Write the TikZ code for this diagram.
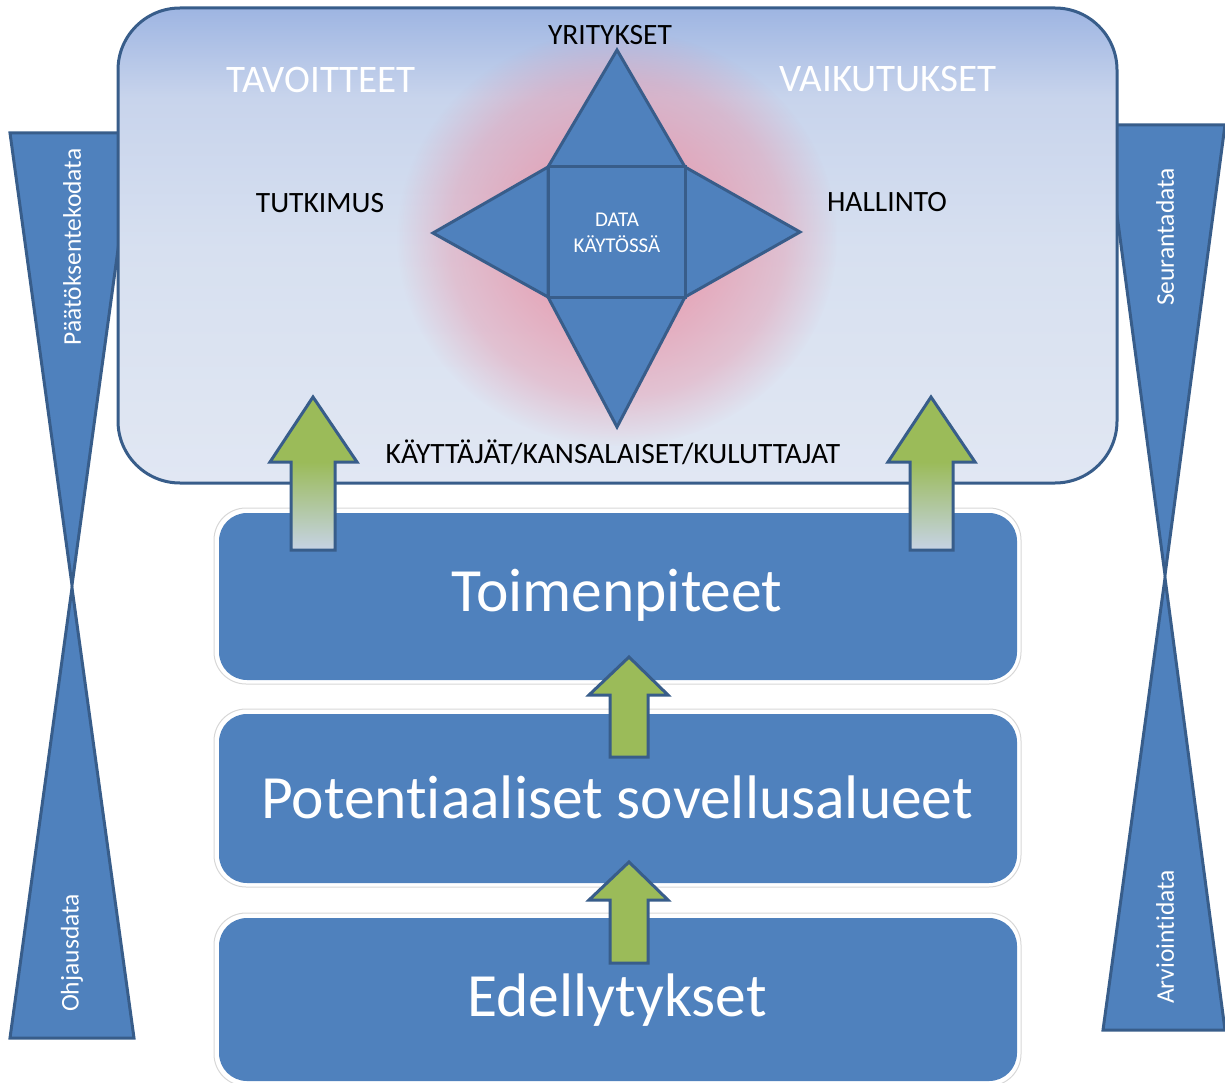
\documentclass[tikz,border=0pt]{standalone}
\usepackage{fontspec}
\setmainfont{Carlito}[Ligatures=NoCommon]
\usetikzlibrary{fadings}
\definecolor{boxblue}{HTML}{4F81BD}
\definecolor{edgeblue}{HTML}{385D8A}
\definecolor{arrowgreen}{HTML}{9BBB59}
\definecolor{shaftpale}{RGB}{198,211,229}
\definecolor{paneltop}{RGB}{158,181,226}
\definecolor{panelhigh}{RGB}{200,212,236}
\definecolor{panelmid}{RGB}{215,224,240}
\definecolor{panelbot}{RGB}{225,231,243}
\definecolor{glowpink}{RGB}{235,140,160}
\definecolor{haloline}{RGB}{215,215,215}
% vertical gradient of the top panel (the path covers 25bp..75bp)
\pgfdeclareverticalshading{panelshade}{100bp}{color(0bp)=(panelbot); color(25bp)=(panelbot); color(49.5bp)=(panelmid); color(65.5bp)=(panelhigh); color(75bp)=(paneltop); color(100bp)=(paneltop)}
% soft halo behind the star (the path covers radius 0..25bp)
\pgfdeclareradialshading{haloshape}{\pgfpoint{0bp}{0bp}}{color(0bp)=(pgftransparent!32); color(11bp)=(pgftransparent!36); color(19bp)=(pgftransparent!62); color(25bp)=(pgftransparent!100); color(50bp)=(pgftransparent!100)}
\pgfdeclarefading{halofade}{\pgfuseshading{haloshape}}
\tikzset{
  shapefill/.style={fill=boxblue, draw=edgeblue, line width=3pt, line join=miter},
  levelbox/.style={fill=boxblue, rounded corners=28pt},
  levelhalo/.style={draw=haloline, line width=1pt, rounded corners=32pt},
  arrowshape/.style={draw=edgeblue, line width=3pt, line join=miter},
  fz/.style={font=\fontsize{#1}{#1}\selectfont},
  whitetxt/.style={text=white, inner sep=0pt},
  blacktxt/.style={text=black, inner sep=0pt},
}
\begin{document}
\begin{tikzpicture}[x=1pt, y=-1pt]
\useasboundingbox (0,0) rectangle (1225,1083);

% side funnels (upper parts pass behind the panel)
\path[shapefill] (10,133) -- (134,133) -- (72,585) -- cycle;
\path[shapefill] (10,1038) -- (134,1038) -- (72,588) -- cycle;
\path[shapefill] (1105,125) -- (1225,125) -- (1165,575) -- cycle;
\path[shapefill] (1103,1030) -- (1225,1030) -- (1165,578) -- cycle;

% top panel
\path[shading=panelshade, draw=edgeblue, line width=3pt,
      rounded corners=62pt] (118,8) rectangle (1117,483);

% glow behind the star
\fill[glowpink, path fading=halofade] (617,238) ellipse (220 and 208);

% star: centre square and four triangles
\path[shapefill] (548,167) -- (685,167) -- (617,50) -- cycle;
\path[shapefill] (548,167) -- (548,297) -- (433,233) -- cycle;
\path[shapefill] (685,167) -- (685,297) -- (800,232) -- cycle;
\path[shapefill] (548,297) -- (685,297) -- (617,427) -- cycle;
\path[shapefill] (548,167) rectangle (685,297);
\node[whitetxt, fz=21, align=center] (data) at (617,233) {DATA\\[5pt]KÄYTÖSSÄ};

% level boxes
\path[levelhalo] (214,508) rectangle (1021,684);
\path[levelbox] (219,513) rectangle (1017,680);
\path[levelhalo] (214,709) rectangle (1021,887);
\path[levelbox] (219,714) rectangle (1017,883);
\path[levelhalo] (214,913) rectangle (1021,1086);
\path[levelbox] (219,918) rectangle (1017,1081);

% large arrows from the actions box into the panel
\fill[arrowgreen] (313,397) -- (357,462) -- (335,462) -- (335,550) -- (291,550) -- (291,462) -- (270,462) -- cycle;
\shade[top color=arrowgreen, bottom color=shaftpale] (291,462) rectangle (335,550);
\path[arrowshape] (313,397) -- (357,462) -- (335,462) -- (335,550) -- (291,550) -- (291,462) -- (270,462) -- cycle;

\fill[arrowgreen] (931,397) -- (975,462) -- (953,462) -- (953,550) -- (910,550) -- (910,462) -- (888,462) -- cycle;
\shade[top color=arrowgreen, bottom color=shaftpale] (910,462) rectangle (953,550);
\path[arrowshape] (931,397) -- (975,462) -- (953,462) -- (953,550) -- (910,550) -- (910,462) -- (888,462) -- cycle;

% small arrows between the levels
\path[arrowshape, fill=arrowgreen] (629,657) -- (668,695) -- (648,695) -- (648,757) -- (610,757) -- (610,695) -- (589,695) -- cycle;
\path[arrowshape, fill=arrowgreen] (629,862) -- (668,900) -- (648,900) -- (648,963) -- (610,963) -- (610,900) -- (589,900) -- cycle;

% panel labels
\node[whitetxt, fz=39] (goals) at (321,80) {TAVOITTEET};
\node[whitetxt, fz=39] (effects) at (888,79) {VAIKUTUKSET};
\node[blacktxt, fz=29.5] (firms) at (610,35) {YRITYKSET};
\node[blacktxt, fz=29.5] (research) at (320,203) {TUTKIMUS};
\node[blacktxt, fz=29.5] (admin) at (887,202) {HALLINTO};
\node[blacktxt, fz=29.5] (users) at (613,452) {KÄYTTÄJÄT/KANSALAISET/KULUTTAJAT};

% level labels
\node[whitetxt, fz=61.5] (actions) at (617,595) {Toimenpiteet};
\node[whitetxt, fz=61.5] (areas) at (617,797) {Potentiaaliset sovellusalueet};
\node[whitetxt, fz=61.5] (prereq) at (617,1000) {Edellytykset};

% funnel labels
\node[whitetxt, fz=25.5, rotate=90] (decision) at (72,247) {Päätöksentekodata};
\node[whitetxt, fz=25.5, rotate=90] (monitor) at (1165,237) {Seurantadata};
\node[whitetxt, fz=25.5, rotate=90] (steer) at (72,953) {Ohjausdata};
\node[whitetxt, fz=25.5, rotate=90] (evaluate) at (1165,937) {Arviointidata};
\end{tikzpicture}
\end{document}
